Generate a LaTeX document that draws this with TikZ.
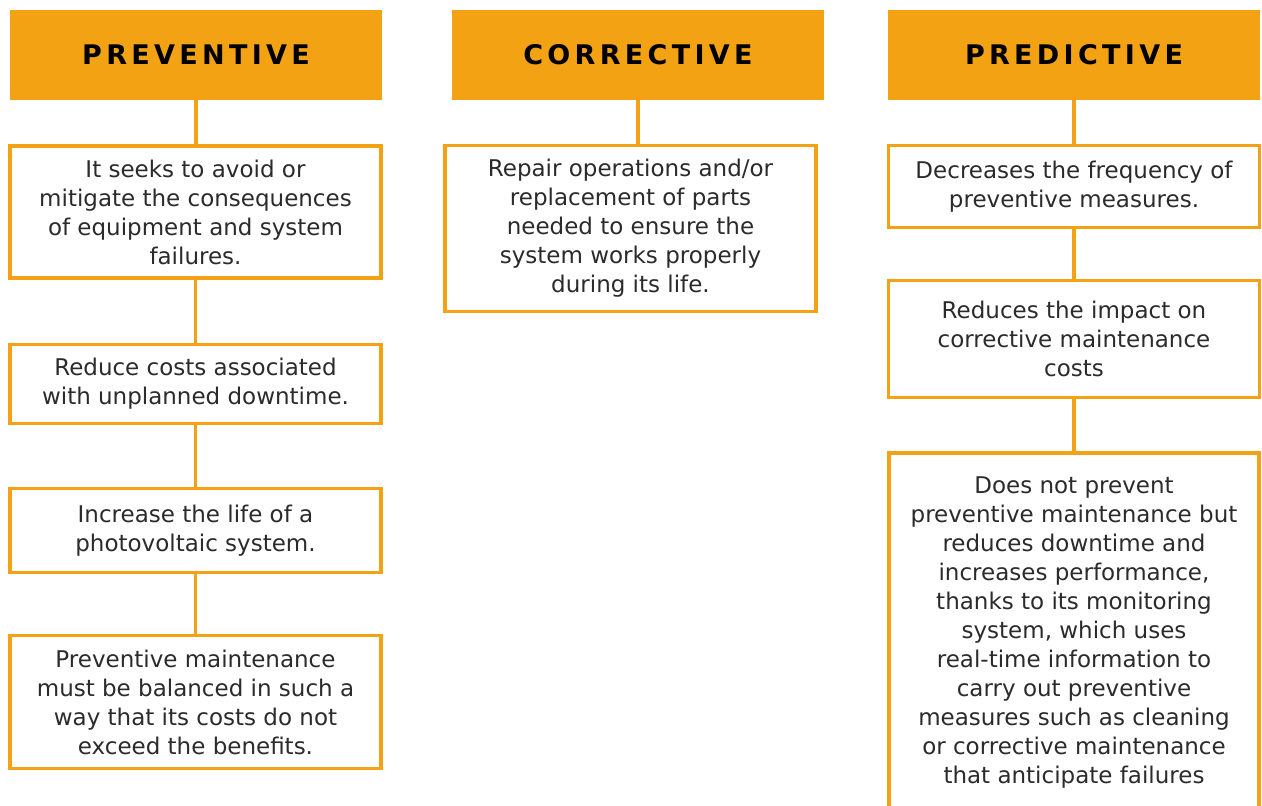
\documentclass[tikz,border=0pt]{standalone}
\usepackage{fontspec}
\setmainfont{DejaVu Sans}
\newfontfamily\headfont[LetterSpace=16]{DejaVu Sans}
\usetikzlibrary{positioning}
\definecolor{xorange}{HTML}{F2A213}
\definecolor{xtext}{HTML}{2B2B2B}
\tikzset{
	head/.style = {fill=xorange, minimum width=372pt, minimum height=90pt, inner sep=0pt, font=\headfont\bfseries\fontsize{27}{30}\selectfont},
	item/.style = {draw=xorange, line width=3.5pt, fill=white, align=center, text=xtext, inner sep=0pt, minimum width=371pt, minimum height=#1, font=\fontsize{23}{29}\selectfont},
	link/.style = {draw=xorange, line width=3.5pt},
}

\begin{document}
\begin{tikzpicture}[x=1pt, y=-1pt]
			\useasboundingbox (0,0) rectangle (1262,806);
			\clip (0,0) rectangle (1262,806);
			\node[head] (hprev) at (196,55)  {PREVENTIVE};
			\node[head] (hcorr) at (638,55)  {CORRECTIVE};
			\node[head] (hpred) at (1074,55) {PREDICTIVE};
			\node[item=132pt] (prev1) at (195.5,212) {It seeks to avoid or\\ mitigate the consequences\\ of equipment and system\\ failures.};
			\node[item=79pt]  (prev2) at (195.5,384) {Reduce costs associated\\ with unplanned downtime.};
			\node[item=84pt]  (prev3) at (195.5,530.5) {Increase the life of a\\ photovoltaic system.};
			\node[item=133pt] (prev4) at (195.5,702) {Preventive maintenance\\ must be balanced in such a\\ way that its costs do not\\ exceed the benefits.};
			\node[item=166pt] (corr1) at (630.5,228.5) {Repair operations and/or\\ replacement of parts\\ needed to ensure the\\ system works properly\\ during its life.};
			\node[item=82pt]  (pred1) at (1074,186.5) {Decreases the frequency of\\ preventive measures.};
			\node[item=117pt] (pred2) at (1074,339) {Reduces the impact on\\ corrective maintenance\\ costs};
			\node[item=0pt, minimum width=370pt, inner ysep=24pt, anchor=north] (pred3) at (1074,451) {Does not prevent\\ preventive maintenance but\\ reduces downtime and\\ increases performance,\\ thanks to its monitoring\\ system, which uses\\ real-time information to\\ carry out preventive\\ measures such as cleaning\\ or corrective maintenance\\ that anticipate failures};
			\draw[link] (hprev.south) -- (hprev.south |- prev1.north);
			\draw[link] (prev1) -- (prev2);
			\draw[link] (prev2) -- (prev3);
			\draw[link] (prev3) -- (prev4);
			\draw[link] (hcorr.south) -- (hcorr.south |- corr1.north);
			\draw[link] (hpred.south) -- (hpred.south |- pred1.north);
			\draw[link] (pred1) -- (pred2);
			\draw[link] (pred2) -- (pred3);
		\end{tikzpicture}
\end{document}
